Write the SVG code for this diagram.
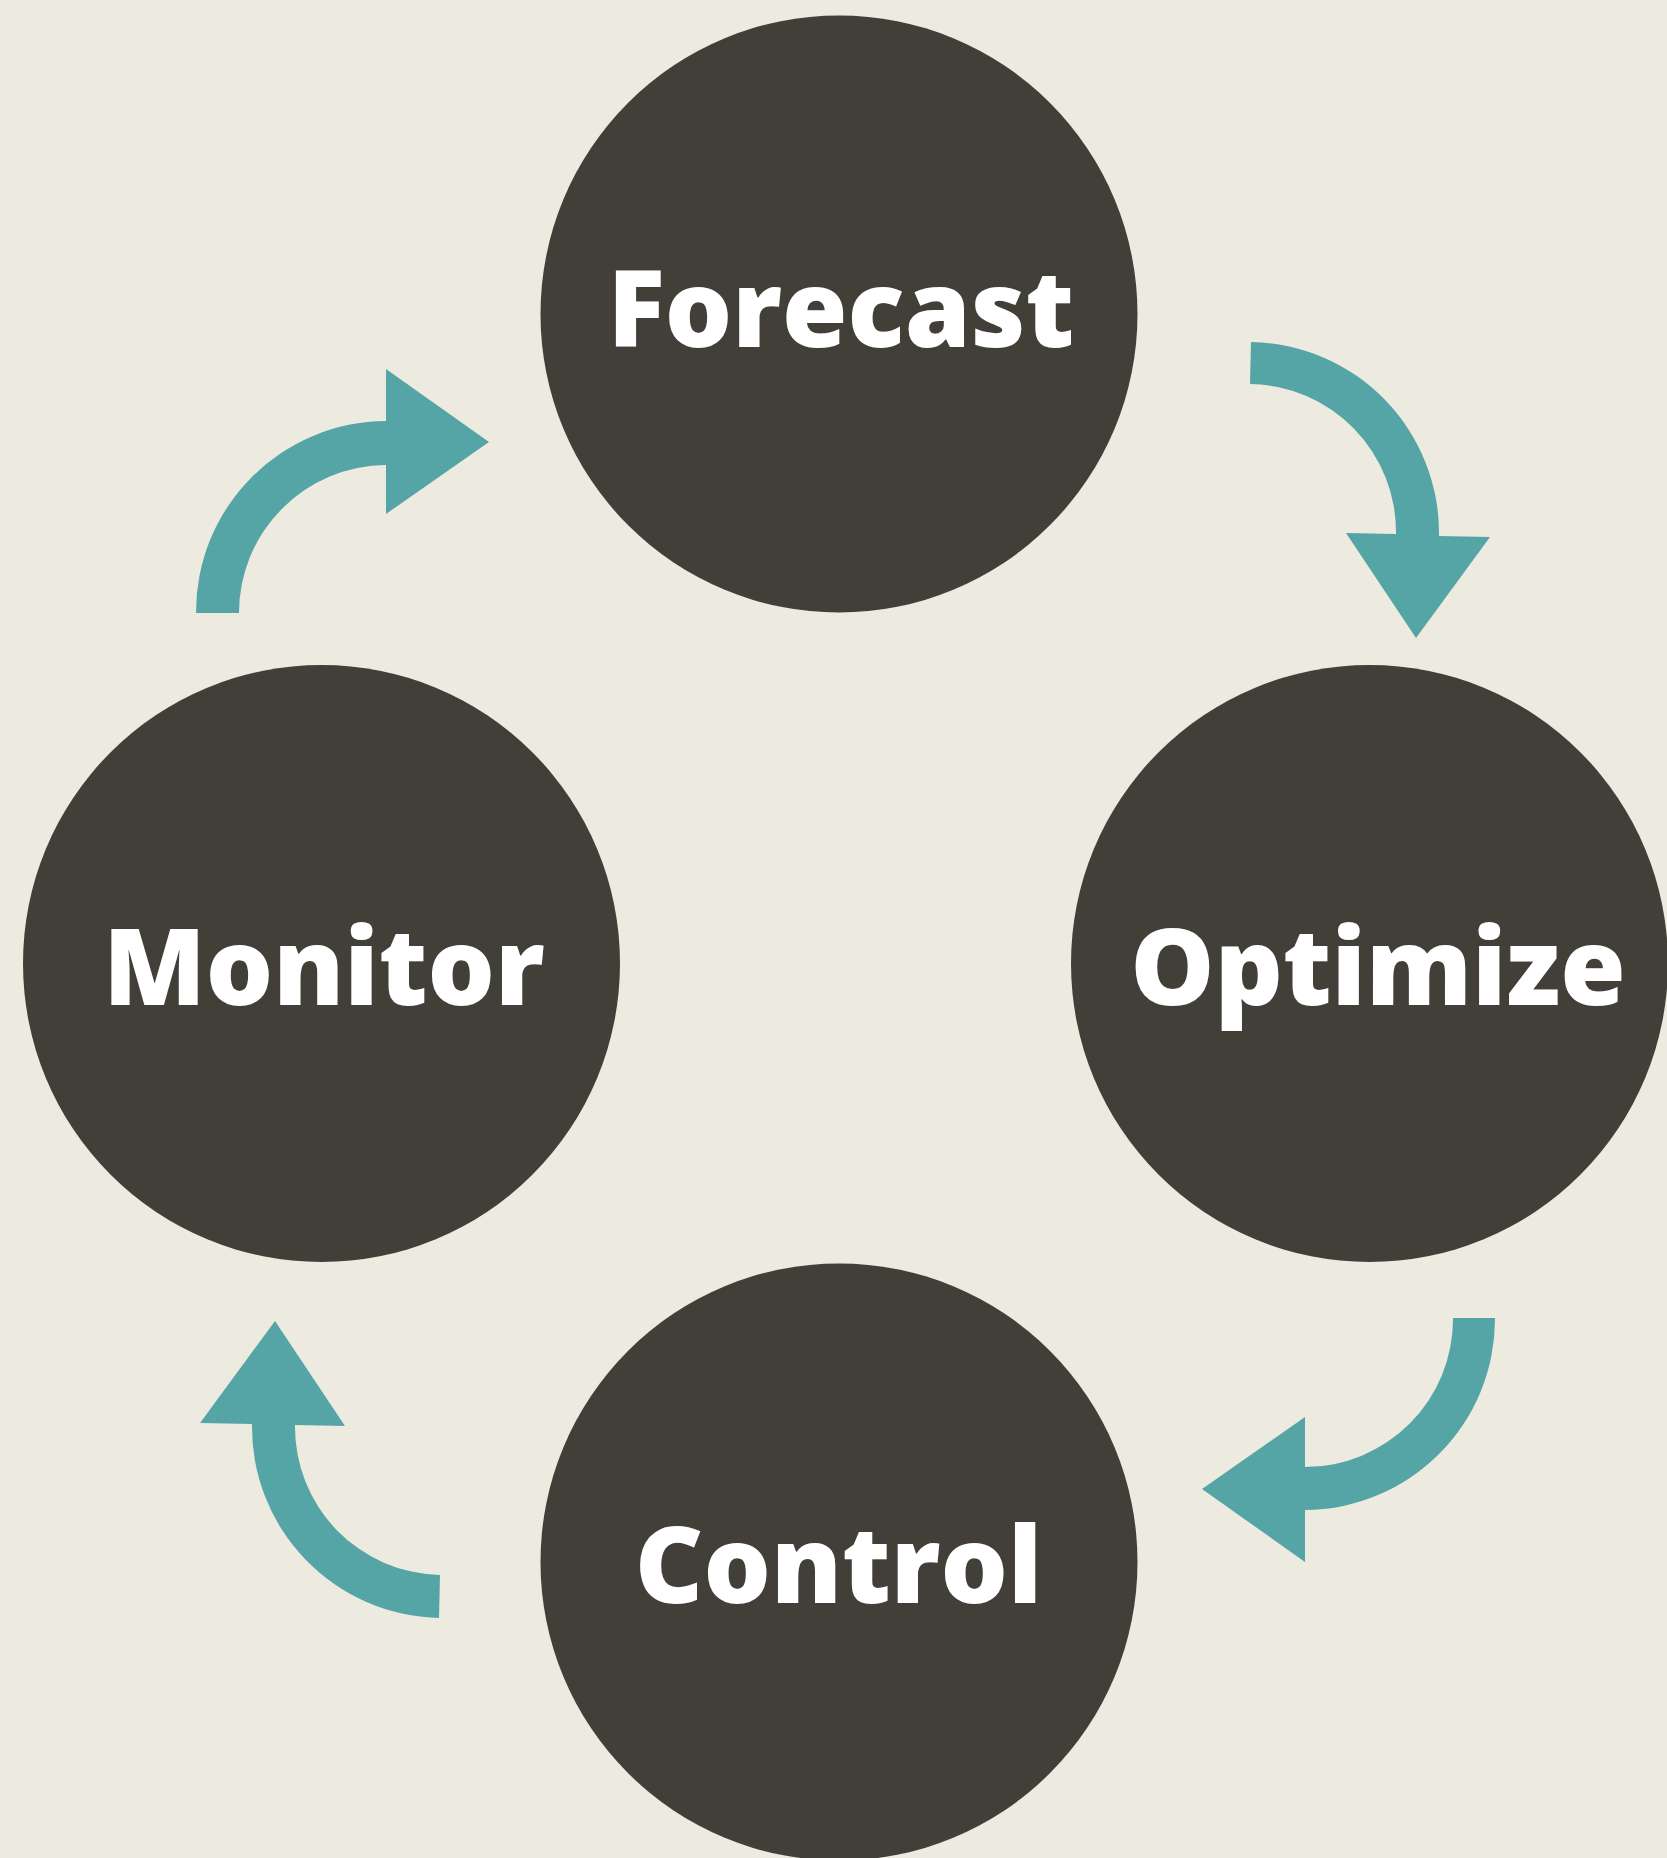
<svg xmlns="http://www.w3.org/2000/svg" width="1667" height="1858" viewBox="0 0 1667 1858">
  <style>
    .node { fill: #423F39; }
    .label { fill: #FFFFFF; font-family: "Open Sans", "Noto Sans", "DejaVu Sans", sans-serif; font-weight: 800; font-size: 106px; text-anchor: middle; }
    .arrow { fill: #55A5A6; }
  </style>
  <rect width="1667" height="1858" fill="#EDEBDF"/>

  <!-- curved cycle arrows -->
  <g id="connectors">
    <!-- Monitor to Forecast -->
    <path class="arrow" d="M196,613 A191,191 0 0 1 386,421 L386,369 L489,442 L386,514 L386,465 A148,148 0 0 0 239,613 Z"/>
    <!-- Forecast to Optimize -->
    <path class="arrow" d="M1251,342 A191,191 0 0 1 1439,536 L1490,537 L1416,638 L1346,533 L1396,534 A148,148 0 0 0 1250,384 Z"/>
    <!-- Optimize to Control -->
    <path class="arrow" d="M1495,1318 A191,191 0 0 1 1305,1510 L1305,1562 L1202,1489 L1305,1417 L1305,1467 A148,148 0 0 0 1453,1318 Z"/>
    <!-- Control to Monitor -->
    <path class="arrow" d="M439,1618 A191,191 0 0 1 252,1424 L200,1423 L275,1321 L345,1426 L295,1425 A148,148 0 0 0 440,1575 Z"/>
  </g>

  <g id="forecast">
    <circle class="node" cx="839" cy="314" r="298.5"/>
    <text class="label" x="841" y="347">Forecast</text>
  </g>
  <g id="optimize">
    <circle class="node" cx="1369.5" cy="963.5" r="298.5"/>
    <text class="label" x="1378" y="1004.5">Optimize</text>
  </g>
  <g id="monitor">
    <circle class="node" cx="321.5" cy="963.5" r="298.5"/>
    <text class="label" x="324" y="1004.5">Monitor</text>
  </g>
  <g id="control">
    <circle class="node" cx="839" cy="1562" r="298.5"/>
    <text class="label" x="838.5" y="1602.5">Control</text>
  </g>
</svg>
